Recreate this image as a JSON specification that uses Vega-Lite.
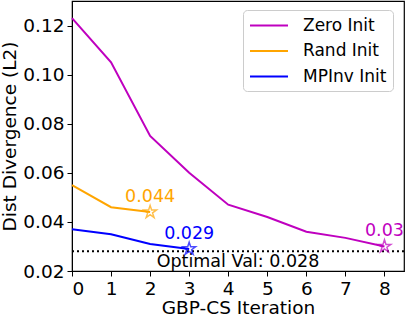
{
  "$schema": "https://vega.github.io/schema/vega-lite/v6.json",
  "width": 332,
  "height": 270,
  "autosize": {"type": "none"},
  "padding": {"left": 72, "top": 1, "right": 2, "bottom": 47},
  "config": {
    "font": "DejaVu Sans",
    "view": {"stroke": "black", "strokeWidth": 1.2},
    "axis": {
      "grid": false,
      "domainColor": "black",
      "tickColor": "black",
      "labelColor": "black",
      "titleColor": "black",
      "labelFontSize": 18.5,
      "titleFontSize": 18.5,
      "titleFontWeight": "normal",
      "tickSize": 5,
      "labelPadding": 3
    }
  },
  "datasets": {
    "lines": [
      {"series": "Zero Init", "iter": 0, "val": 0.123},
      {"series": "Zero Init", "iter": 1, "val": 0.105},
      {"series": "Zero Init", "iter": 2, "val": 0.075},
      {"series": "Zero Init", "iter": 3, "val": 0.060},
      {"series": "Zero Init", "iter": 4, "val": 0.047},
      {"series": "Zero Init", "iter": 5, "val": 0.042},
      {"series": "Zero Init", "iter": 6, "val": 0.036},
      {"series": "Zero Init", "iter": 7, "val": 0.0335},
      {"series": "Zero Init", "iter": 8, "val": 0.030},
      {"series": "Rand Init", "iter": 0, "val": 0.055},
      {"series": "Rand Init", "iter": 1, "val": 0.046},
      {"series": "Rand Init", "iter": 2, "val": 0.044},
      {"series": "MPInv Init", "iter": 0, "val": 0.037},
      {"series": "MPInv Init", "iter": 1, "val": 0.035},
      {"series": "MPInv Init", "iter": 2, "val": 0.031},
      {"series": "MPInv Init", "iter": 3, "val": 0.029}
    ],
    "ends": [
      {"series": "Zero Init", "iter": 8, "val": 0.030, "label": "0.03"},
      {"series": "Rand Init", "iter": 2, "val": 0.044, "label": "0.044"},
      {"series": "MPInv Init", "iter": 3, "val": 0.029, "label": "0.029"}
    ],
    "optimal": [
      {"val": 0.028, "iter": 4.25, "label": "Optimal Val: 0.028"}
    ]
  },
  "layer": [
    {
      "data": {"name": "lines"},
      "mark": {"type": "line", "strokeWidth": 2},
      "encoding": {
        "x": {"field": "iter", "type": "quantitative", "scale": {"domain": [0, 8.5], "nice": false, "zero": false},
              "axis": {"values": [0,1,2,3,4,5,6,7,8], "title": "GBP-CS Iteration", "titlePadding": 1}},
        "y": {"field": "val", "type": "quantitative", "scale": {"domain": [0.02, 0.13], "nice": false, "zero": false},
              "axis": {"values": [0.02,0.04,0.06,0.08,0.10,0.12], "format": ".2f", "title": "Dist Divergence (L2)", "titlePadding": 3}},
        "color": {"field": "series", "type": "nominal",
                  "scale": {"domain": ["Zero Init", "Rand Init", "MPInv Init"], "range": ["#bf00bf", "#ffa500", "#0000ff"]},
                  "legend": {"title": null, "orient": "none", "legendX": 171, "legendY": 9, "symbolType": "M-1,0L3.47,0",
                             "symbolStrokeWidth": 2, "symbolSize": 289, "labelFontSize": 17, "labelColor": "black",
                             "fillColor": "white", "strokeColor": "#cccccc", "cornerRadius": 4, "padding": 6,
                             "rowPadding": 7.5, "labelOffset": 35}},
        "order": {"field": "iter"}
      }
    },
    {
      "data": {"name": "optimal"},
      "mark": {"type": "rule", "color": "black", "strokeWidth": 2, "strokeDash": [2, 3]},
      "encoding": {"y": {"field": "val", "type": "quantitative"}}
    },
    {
      "data": {"name": "optimal"},
      "mark": {"type": "text", "fontSize": 17.5, "color": "black", "baseline": "top", "dy": 2, "align": "center"},
      "encoding": {
        "x": {"field": "iter", "type": "quantitative"},
        "y": {"field": "val", "type": "quantitative"},
        "text": {"field": "label"}
      }
    },
    {
      "data": {"name": "ends"},
      "mark": {"type": "point", "filled": false, "strokeWidth": 1.5, "size": 180,
               "shape": "M0,-1L0.225,-0.309L0.951,-0.309L0.363,0.118L0.588,0.809L0,0.382L-0.588,0.809L-0.363,0.118L-0.951,-0.309L-0.225,-0.309Z"},
      "encoding": {
        "x": {"field": "iter", "type": "quantitative"},
        "y": {"field": "val", "type": "quantitative"},
        "color": {"field": "series", "type": "nominal", "legend": null}
      }
    },
    {
      "data": {"name": "ends"},
      "mark": {"type": "text", "fontSize": 17.5, "baseline": "bottom", "dy": -6, "align": "center"},
      "encoding": {
        "x": {"field": "iter", "type": "quantitative"},
        "y": {"field": "val", "type": "quantitative"},
        "text": {"field": "label"},
        "color": {"field": "series", "type": "nominal", "legend": null}
      }
    }
  ]
}
